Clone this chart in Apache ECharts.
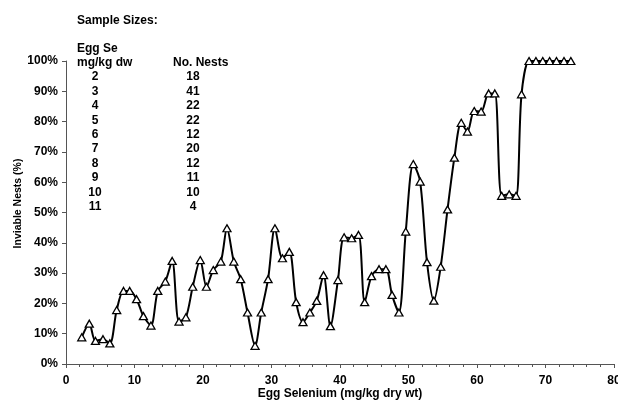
<!DOCTYPE html>
<html>
<head>
<meta charset="utf-8">
<script src="https://cdn.jsdelivr.net/npm/echarts@6/dist/echarts.min.js"></script>
<style>
  html, body { margin: 0; padding: 0; background: #fff; }
  #chart { width: 618px; height: 407px; }
</style>
</head>
<body>
<div id="chart"></div>
<script>
// egg selenium (mg/kg dry wt)
const eggSe = [2.3, 3.4, 4.3, 5.4, 6.4, 7.4, 8.4, 9.3, 10.3, 11.3, 12.4, 13.4, 14.5, 15.5, 16.5, 17.5, 18.5, 19.6,
  20.5, 21.5, 22.6, 23.5, 24.5, 25.5, 26.5, 27.6, 28.5, 29.5, 30.5, 31.6, 32.6, 33.6, 34.6, 35.6, 36.6, 37.6,
  38.6, 39.7, 40.6, 41.7, 42.7, 43.6, 44.6, 45.7, 46.7, 47.6, 48.6, 49.6, 50.7, 51.7, 52.7, 53.7, 54.7, 55.7,
  56.7, 57.7, 58.6, 59.6, 60.6, 61.7, 62.6, 63.6, 64.7, 65.7, 66.5, 67.6, 68.6, 69.6, 70.6, 71.6, 72.7, 73.7]
// inviable nests (%)
const inviable = [8.8, 13.3, 7.6, 8.2, 6.8, 17.8, 24.1, 24.1, 21.4, 15.8, 12.7, 24.1, 27.2, 34.0, 14.0, 15.4, 25.5, 34.3,
  25.5, 31.0, 33.8, 44.8, 33.8, 28.0, 17.0, 6.0, 17.0, 28.0, 44.8, 34.9, 37.0, 20.4, 13.8, 17.0, 20.8, 29.3,
  12.5, 27.7, 41.8, 41.5, 42.6, 20.4, 29.0, 31.3, 31.3, 22.8, 17.0, 43.7, 66.0, 60.2, 33.6, 20.9, 32.1, 51.0,
  68.1, 79.6, 76.7, 83.5, 83.3, 89.3, 89.3, 55.5, 56.0, 55.5, 89.0, 100, 100, 100, 100, 100, 100, 100]

// sample sizes table
const sampleSe = [2, 3, 4, 5, 6, 7, 8, 9, 10, 11]
const sampleNests = [18, 41, 22, 22, 12, 20, 12, 11, 10, 4]

const font = '"Liberation Sans", Arial, sans-serif'
const chart = echarts.init(document.getElementById('chart'))

function label(text, x, y, align) {
  return {
    type: 'text',
    x: x,
    y: y,
    style: {
      text: text,
      fill: '#000',
      font: 'bold 12px ' + font,
      align: align || 'left',
      verticalAlign: 'middle'
    }
  }
}

const graphics = [
  label('Sample Sizes:', 77, 21),
  label('Egg Se', 77, 49),
  label('mg/kg dw', 77, 63),
  label('No. Nests', 173, 63)
]
sampleSe.forEach(function(v, i) {
  const y = 77 + i * 14.4
  graphics.push(label(String(v), 95, y, 'center'))
  graphics.push(label(String(sampleNests[i]), 193, y, 'center'))
})

chart.setOption({
  animation: false,
  backgroundColor: '#fff',
  textStyle: { fontFamily: font },
  grid: {
    left: 66,
    right: 4,
    top: 61,
    bottom: 43,
    containLabel: false,
    outerBoundsMode: 'none'
  },
  xAxis: {
    type: 'value',
    min: 0,
    max: 80,
    interval: 10,
    name: 'Egg Selenium (mg/kg dry wt)',
    nameLocation: 'middle',
    nameGap: 24,
    nameMoveOverlap: false,
    nameTextStyle: { color: '#000', fontWeight: 'bold', fontSize: 12 },
    axisLine: { lineStyle: { color: '#555', width: 1 } },
    axisTick: { show: true, length: 4, lineStyle: { color: '#555' } },
    minorTick: { show: true, splitNumber: 5, length: 3, lineStyle: { color: '#555' } },
    axisLabel: { color: '#000', fontWeight: 'bold', fontSize: 12, margin: 11, hideOverlap: false },
    splitLine: { show: false }
  },
  yAxis: {
    type: 'value',
    min: 0,
    max: 100,
    interval: 10,
    name: 'Inviable Nests (%)',
    nameLocation: 'middle',
    nameGap: 42,
    nameMoveOverlap: false,
    nameTextStyle: { color: '#000', fontWeight: 'bold', fontSize: 10.5, padding: [0, 0, 0, 18] },
    axisLine: { show: true, lineStyle: { color: '#555', width: 1 } },
    axisTick: { show: true, length: 4, lineStyle: { color: '#555' } },
    axisLabel: { color: '#000', fontWeight: 'bold', fontSize: 12, margin: 8, formatter: '{value}%' },
    splitLine: { show: false }
  },
  graphic: graphics,
  series: [{
    type: 'line',
    data: eggSe.map(function(x, i) { return [x, inviable[i]] }),
    smooth: 0.3,
    symbol: 'triangle',
    symbolSize: [8, 7],
    showAllSymbol: true,
    lineStyle: { color: '#000', width: 2 },
    itemStyle: { color: '#fff', borderColor: '#000', borderWidth: 1.3 }
  }]
})
</script>
</body>
</html>
